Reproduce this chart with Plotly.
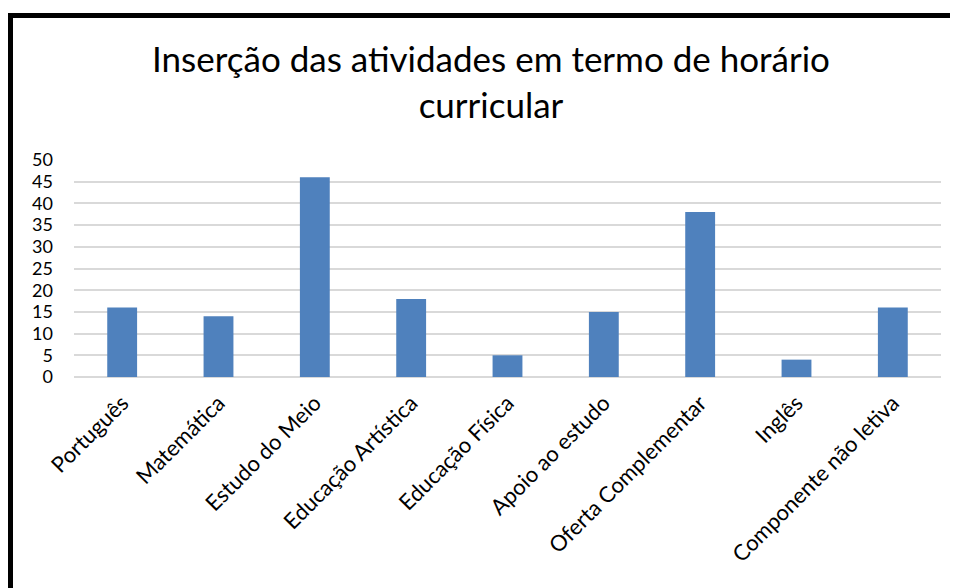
import plotly.graph_objects as go

categories = ["Português", "Matemática", "Estudo do Meio", "Educação Artística",
              "Educação Física", "Apoio ao estudo", "Oferta Complementar",
              "Inglês", "Componente não letiva"]
values = [16, 14, 46, 18, 5, 15, 38, 4, 16]
y_ticks = [0, 5, 10, 15, 20, 25, 30, 35, 40, 45, 50]

W, H = 958, 588
OFF = 8  # page body margin in the browser
# target plot area in page pixels
PL, PR, PT, PB = 74, 941, 160, 377
ML = PL - OFF
MT = PT - OFF
MR = W - (PR - OFF)
MB = H - (PB - OFF)
pw = PR - PL
ph = PB - PT

def px_to_paper_x(px):
    return (px - PL) / pw

def px_to_paper_y(py):
    return (PB - py) / ph

fig = go.Figure(go.Bar(x=categories, y=values, marker=dict(color="#4F81BD", line=dict(width=0)),
                       width=0.31))

font_family = "Lato, 'Open Sans', sans-serif"

fig.update_layout(
    width=W, height=H,
    margin=dict(l=ML, r=MR, t=MT, b=MB),
    paper_bgcolor="white", plot_bgcolor="white",
    font=dict(family=font_family, color="black"),
    title=dict(text="Inserção das atividades em termo de horário<br>curricular",
               x=px_to_paper_x(491), xanchor="center", xref="paper",
               y=1 - (72 - OFF) / H, yanchor="middle",
               font=dict(size=35, family=font_family, color="black")),
    showlegend=False,
    xaxis=dict(tickangle=-45, tickfont=dict(size=22), showgrid=False, showline=False,
               ticks="", ticklabelstandoff=8, automargin=False),
    yaxis=dict(range=[0, 50], tickvals=y_ticks, tickfont=dict(size=18), showgrid=True,
               gridcolor="#D9D9D9", gridwidth=2, zeroline=True, zerolinecolor="#D9D9D9",
               zerolinewidth=2, ticks="", showline=False, ticklabelstandoff=20,
               automargin=False),
    shapes=[
        dict(type="line", xref="paper", yref="paper",
             x0=px_to_paper_x(10.5), x1=px_to_paper_x(10.5),
             y0=px_to_paper_y(H + 20), y1=px_to_paper_y(13),
             line=dict(color="black", width=5)),
        dict(type="line", xref="paper", yref="paper",
             x0=px_to_paper_x(8), x1=px_to_paper_x(W + 20),
             y0=px_to_paper_y(15.5), y1=px_to_paper_y(15.5),
             line=dict(color="black", width=5)),
    ],
)

fig.write_html("out.html")
